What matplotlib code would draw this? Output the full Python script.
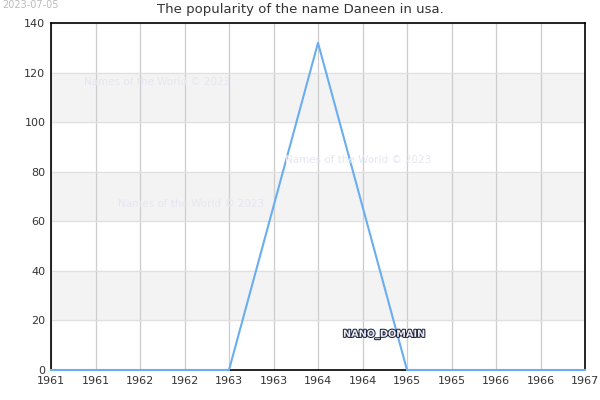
import matplotlib
matplotlib.use("Agg")
import matplotlib.pyplot as plt
import matplotlib.patheffects as pe
import numpy as np

# data
years = [1961, 1962, 1963, 1964, 1965, 1966, 1967]
counts = [0, 0, 0, 132, 0, 0, 0]
tick_pos = np.arange(1961, 1967.01, 0.5)
tick_labels = [str(int(t)) for t in tick_pos]
yticks = [0, 20, 40, 60, 80, 100, 120, 140]

fig = plt.figure(figsize=(6, 4), dpi=100)
ax = fig.add_axes([0.085, 0.075, 0.89, 0.8675])

# alternating bands
for lo in (20, 60, 100):
    ax.axhspan(lo, lo + 20, color="#f3f3f3", zorder=0)

ax.set_xlim(1961, 1967)
ax.set_ylim(0, 140)
ax.set_xticks(tick_pos)
ax.set_xticklabels(tick_labels)
ax.set_yticks(yticks)
ax.tick_params(length=0, labelsize=8, colors="#333333", pad=4)
ax.grid(axis="x", color="#cccccc", lw=0.9, zorder=1)
ax.grid(axis="y", color="#e0e0e0", lw=0.9, zorder=1)
ax.set_axisbelow(True)
for s in ax.spines.values():
    s.set_color("black")
    s.set_linewidth(1.2)

ax.plot(years, counts, color="#6aaef2", lw=1.5, zorder=3, clip_on=False)

fig.text(0.5, 1 - 10 / 400, "The popularity of the name Daneen in usa.",
         fontsize=9.5, color="#333333", ha="center", va="center")

# watermarks
wm = "Names of the World \u00a9 2023"
for x, y in [(84, 82), (285, 160), (118, 204)]:
    fig.text(x / 600, 1 - y / 400, wm, fontsize=7.5, color="#e6e6f2",
             va="center", ha="left")

fig.text(343 / 600, 1 - 334 / 400, "NANO_DOMAIN", fontsize=7, fontweight="bold",
         color="#eeeeee", va="center", ha="left",
         path_effects=[pe.withStroke(linewidth=1.5, foreground="#1c2444")])

fig.text(2 / 600, 1 - 5 / 400, "2023-07-05", fontsize=7, color="#bbbbbb",
         va="center", ha="left")

fig.savefig("out.png", dpi=100)
